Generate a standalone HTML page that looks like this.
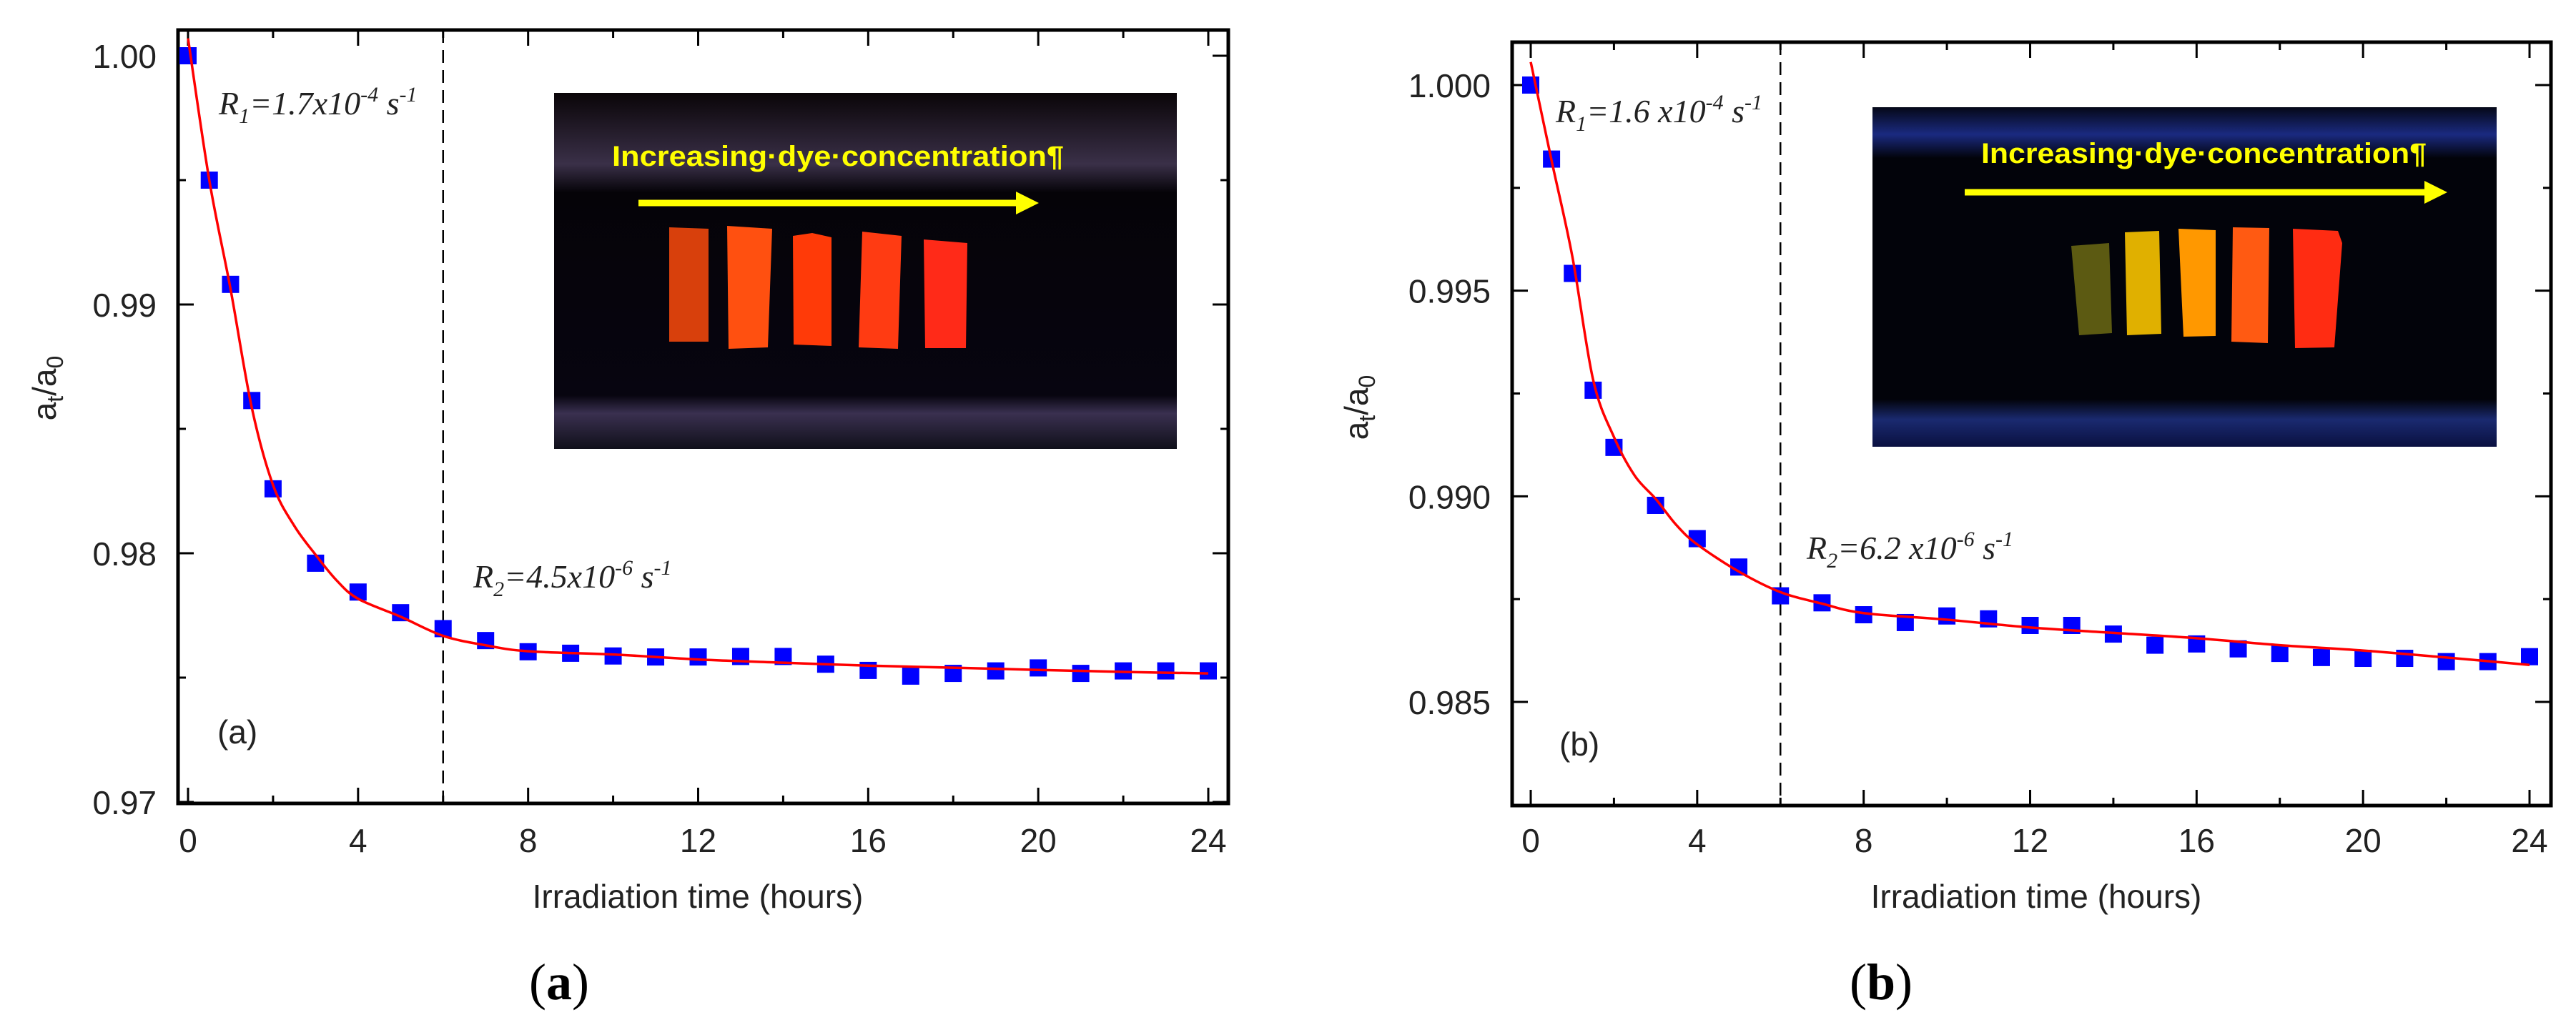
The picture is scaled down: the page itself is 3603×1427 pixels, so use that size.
<!DOCTYPE html>
<html><head><meta charset="utf-8"><style>
html,body{margin:0;padding:0;background:#fff;}
svg{display:block;}
.tk{font-family:"Liberation Sans",Arial,sans-serif;font-size:46px;fill:#222;}
.ax{font-family:"Liberation Sans",Arial,sans-serif;font-size:46px;fill:#222;}
.ann{font-family:"Liberation Serif","Times New Roman",serif;font-style:italic;font-size:46px;fill:#222;}
.pl{font-family:"Liberation Serif",serif;font-size:72px;fill:#000;}
.ins{font-family:"Liberation Sans",sans-serif;font-weight:bold;font-size:40px;fill:#ffff00;}
</style></head><body>
<svg id="fig" width="3603" height="1427" viewBox="0 0 3603 1427" xmlns="http://www.w3.org/2000/svg">
<defs>
<linearGradient id="gA" x1="0" y1="0" x2="0" y2="1"><stop offset="0" stop-color="#0a0508"/><stop offset="0.2" stop-color="#3a3048"/><stop offset="0.28" stop-color="#050308"/><stop offset="0.85" stop-color="#070510"/><stop offset="0.9" stop-color="#3a3050"/><stop offset="1" stop-color="#10101a"/></linearGradient>
<linearGradient id="gB" x1="0" y1="0" x2="0" y2="1"><stop offset="0" stop-color="#050818"/><stop offset="0.08" stop-color="#1a2a80"/><stop offset="0.15" stop-color="#02030a"/><stop offset="0.86" stop-color="#02030a"/><stop offset="0.92" stop-color="#1a2a70"/><stop offset="1" stop-color="#0a1040"/></linearGradient>
</defs>
<g id="plotA"></g>
<g id="plotB"></g>
</svg>
<script>
// ---- Panel (a) data ----
const timeA = [0,0.5,1,1.5,2,3,4,5,6,7,8,9,10,11,12,13,14,15,16,17,18,19,20,21,22,23,24];
const valuesA = [1.0000,0.9950,0.99081,0.98614,0.98259,0.97960,0.97844,0.97761,0.97697,0.97649,0.97604,0.97598,0.97587,0.97583,0.97583,0.97585,0.97585,0.97554,0.97529,0.97506,0.97517,0.97527,0.97539,0.97517,0.97527,0.97527,0.97527];
const fitTimeA = [0,0.5,1,1.5,2,2.5,3,3.5,4,5,6,7,8,10,12,14,16,18,20,22,24];
const fitValuesA = [1.0007,0.9950,0.99062,0.98585,0.98274,0.9811,0.97994,0.9789,0.97817,0.97745,0.97668,0.9763,0.97606,0.97593,0.97573,0.9756,0.97548,0.9754,0.97531,0.97523,0.97517];
const yTicksA = [0.97,0.98,0.99,1.00];
const yTickLabelsA = ["0.97","0.98","0.99","1.00"];
// ---- Panel (b) data ----
const timeB = [0,0.5,1,1.5,2,3,4,5,6,7,8,9,10,11,12,13,14,15,16,17,18,19,20,21,22,23,24];
const valuesB = [1.0000,0.9982,0.99542,0.99258,0.99119,0.98978,0.98897,0.98828,0.98758,0.98741,0.98712,0.98693,0.98709,0.98702,0.98686,0.98686,0.98665,0.98638,0.98641,0.98629,0.98618,0.98608,0.98606,0.98606,0.98598,0.98598,0.98610];
const fitTimeB = [0,0.5,1,1.5,2,2.5,3,3.5,4,5,6,7,8,10,12,14,16,18,20,22,24];
const fitValuesB = [1.00056,0.99817,0.99583,0.99283,0.99144,0.9905,0.98994,0.9893,0.98883,0.98817,0.98767,0.98739,0.98716,0.987,0.98681,0.98668,0.98655,0.98638,0.98625,0.98608,0.98590];
const yTicksB = [0.985,0.990,0.995,1.000];
const yTickLabelsB = ["0.985","0.990","0.995","1.000"];
const xTicks = [0,4,8,12,16,20,24];
const xTickLabels = ["0","4","8","12","16","20","24"];

const NS="http://www.w3.org/2000/svg";
function mk(parent,tag,attrs,text){const e=document.createElementNS(NS,tag);for(const k in attrs)e.setAttribute(k,attrs[k]);if(text!==undefined)e.textContent=text;parent.appendChild(e);return e;}

function drawPlot(g,cfg){
  const X=t=>cfg.x0+(t-0)*(cfg.x24-cfg.x0)/24;
  const Y=v=>cfg.yTop+(cfg.vTop-v)*(cfg.yBot-cfg.yTop)/(cfg.vTop-cfg.vBot);
  const fr=mk(g,'rect',{x:cfg.L,y:cfg.T,width:cfg.R-cfg.L,height:cfg.B-cfg.T,fill:'none',stroke:'#000','stroke-width':5});
  
  
  cfg.photo(g);
  for(let t=0;t<=24;t+=2){
    const major=t%4===0, len=major?22:11, x=X(t);
    const a=mk(g,'line',{x1:x,y1:cfg.B,x2:x,y2:cfg.B-len,stroke:'#000','stroke-width':3});
    
    
    mk(g,'line',{x1:x,y1:cfg.T,x2:x,y2:cfg.T+len,stroke:'#000','stroke-width':3});
  }
  xTicks.forEach((t,i)=>{
    const tx=mk(g,'text',{x:X(t),y:cfg.xLabY,'text-anchor':'middle',class:'tk'},xTickLabels[i]);
    
    
  });
  const step=cfg.yTicks[1]-cfg.yTicks[0];
  for(let k=0;k<cfg.yTicks.length;k++){
    const v=cfg.yTicks[k];
    [v, v+step/2].forEach((vv,j)=>{
      const y=Y(vv); if(y<cfg.T+2||y>cfg.B-2&&j===1) return;
      const len=j===0?22:11;
      mk(g,'line',{x1:cfg.L,y1:y,x2:cfg.L+len,y2:y,stroke:'#000','stroke-width':3});
      mk(g,'line',{x1:cfg.R,y1:y,x2:cfg.R-len,y2:y,stroke:'#000','stroke-width':3});
    });
    const tl=mk(g,'text',{x:cfg.L-30,y:Y(v)+17,'text-anchor':'end',class:'tk'},cfg.yLabels[k]);
    
    
  }
  const dl=mk(g,'line',{x1:X(6),y1:cfg.T,x2:X(6),y2:cfg.B,stroke:'#000','stroke-width':2.5,'stroke-dasharray':'18,10'});
  
  
  cfg.t.forEach((t,i)=>{
    const r=mk(g,'rect',{x:X(t)-12,y:Y(cfg.v[i])-12,width:24,height:24,fill:'#0000ff'});
    
    
  });
  const P=cfg.ft.map((t,i)=>[X(t),Y(cfg.fv[i])]);
  let d='M'+P[0][0]+','+P[0][1];
  for(let i=0;i<P.length-1;i++){
    const p0=P[Math.max(0,i-1)],p1=P[i],p2=P[i+1],p3=P[Math.min(P.length-1,i+2)];
    d+=' C'+(p1[0]+(p2[0]-p0[0])/6)+','+(p1[1]+(p2[1]-p0[1])/6)+' '+(p2[0]-(p3[0]-p1[0])/6)+','+(p2[1]-(p3[1]-p1[1])/6)+' '+p2[0]+','+p2[1];
  }
  const fc=mk(g,'path',{d:d,fill:'none',stroke:'#ff0000','stroke-width':3.5});
  
  
  const xt=mk(g,'text',{x:cfg.xTitleX,y:1270,'text-anchor':'middle',class:'ax'},'Irradiation time (hours)');
  
  
  const yt=mk(g,'text',{transform:'translate('+(cfg.yTitleX+16)+','+cfg.yTitleY+') rotate(-90)','text-anchor':'middle',class:'ax','font-size':'50'});
  
  
  mk(yt,'tspan',{},'a');mk(yt,'tspan',{'font-size':'32',dy:'10'},'t');mk(yt,'tspan',{dy:'-10'},'/a');mk(yt,'tspan',{'font-size':'32',dy:'10'},'0');
  const r1=mk(g,'text',{x:cfg.r1[0],y:cfg.r1[1],class:'ann'});
  
  
  mk(r1,'tspan',{},'R');mk(r1,'tspan',{'font-size':'30',dy:'12'},'1');mk(r1,'tspan',{dy:'-12'},'='+cfg.r1t+'x10');mk(r1,'tspan',{'font-size':'30',dy:'-18'},'-4');mk(r1,'tspan',{dy:'18'},' s');mk(r1,'tspan',{'font-size':'30',dy:'-18'},'-1');
  const r2=mk(g,'text',{x:cfg.r2[0],y:cfg.r2[1],class:'ann'});
  
  
  mk(r2,'tspan',{},'R');mk(r2,'tspan',{'font-size':'30',dy:'12'},'2');mk(r2,'tspan',{dy:'-12'},'='+cfg.r2t+'x10');mk(r2,'tspan',{'font-size':'30',dy:'-18'},'-6');mk(r2,'tspan',{dy:'18'},' s');mk(r2,'tspan',{'font-size':'30',dy:'-18'},'-1');
  const il=mk(g,'text',{x:cfg.inLab[0],y:cfg.inLab[1],class:'ax','font-size':'44'},cfg.inLabT);
  
  
  const pl=mk(g,'text',{x:cfg.pLab[0],y:1398,'text-anchor':'middle',class:'pl'});
  
  
  mk(pl,'tspan',{},'(');mk(pl,'tspan',{'font-weight':'bold'},cfg.pLabT);mk(pl,'tspan',{},')');
}

function photo(g,box,grad,text,textX,textY,textW,arrow,strips){
  const pg=mk(g,'g',{});
  
  
  mk(pg,'rect',{x:box[0],y:box[1],width:box[2]-box[0],height:box[3]-box[1],fill:'url(#'+grad+')'});
  strips.forEach(s=>{
    const r=mk(pg,'polygon',{points:s[0],fill:s[1]});
    
    
  });
  const t=mk(pg,'text',{x:textX,y:textY,class:'ins',textLength:textW,lengthAdjust:'spacingAndGlyphs'},text);
  
  
  mk(pg,'line',{x1:arrow[0],y1:arrow[2],x2:arrow[1]-30,y2:arrow[2],stroke:'#ffff00','stroke-width':9});
  mk(pg,'polygon',{points:(arrow[1]-32)+','+(arrow[2]-16)+' '+arrow[1]+','+arrow[2]+' '+(arrow[1]-32)+','+(arrow[2]+16),fill:'#ffff00'});
}

drawPlot(document.getElementById('plotA'),{
  L:249,R:1718,T:42,B:1124,x0:263,x24:1690,yTop:78,vTop:1.00,yBot:774,vBot:0.98,
  yTicks:yTicksA,yLabels:yTickLabelsA,t:timeA,v:valuesA,ft:fitTimeA,fv:fitValuesA,
  xLabY:1192,xTitleX:976,yTitleX:62,yTitleY:543,
  r1:[306,160],r1t:'1.7',r2:[662,822],r2t:'4.5',inLab:[304,1040],inLabT:'(a)',pLab:[782],pLabT:'a',
  photo:g=>photo(g,[775,130,1646,628],'gA','Increasing·dye·concentration¶',856,232,632,[893,1453,284],[
    ['936,318 991,320 991,478 936,478','#d8400c'],
    ['1017,316 1080,320 1074,486 1019,488','#ff5010'],
    ['1109,330 1136,326 1163,332 1163,484 1110,482','#ff3a08'],
    ['1206,324 1261,330 1256,488 1201,486','#ff3b12'],
    ['1292,335 1353,340 1351,487 1294,487','#ff2a18']])
});
drawPlot(document.getElementById('plotB'),{
  L:2115,R:3568,T:59,B:1127,x0:2141,x24:3538,yTop:119,vTop:1.000,yBot:982,vBot:0.985,
  yTicks:yTicksB,yLabels:yTickLabelsB,t:timeB,v:valuesB,ft:fitTimeB,fv:fitValuesB,
  xLabY:1192,xTitleX:2848,yTitleX:1897,yTitleY:570,
  r1:[2176,171],r1t:'1.6 ',r2:[2527,782],r2t:'6.2 ',inLab:[2181,1057],inLabT:'(b)',pLab:[2631],pLabT:'b',
  photo:g=>photo(g,[2619,150,3492,625],'gB','Increasing·dye·concentration¶',2771,228,623,[2748,3423,269],[
    ['2897,344 2950,340 2954,466 2908,469','#5c5a12'],
    ['2972,325 3020,323 3023,467 2975,469','#e0b000'],
    ['3047,320 3099,322 3099,470 3054,471','#ff9800'],
    ['3123,318 3174,319 3172,480 3121,478','#ff5a12'],
    ['3207,320 3270,323 3276,340 3265,486 3210,487','#ff2c12']])
});
</script>
</body></html>
